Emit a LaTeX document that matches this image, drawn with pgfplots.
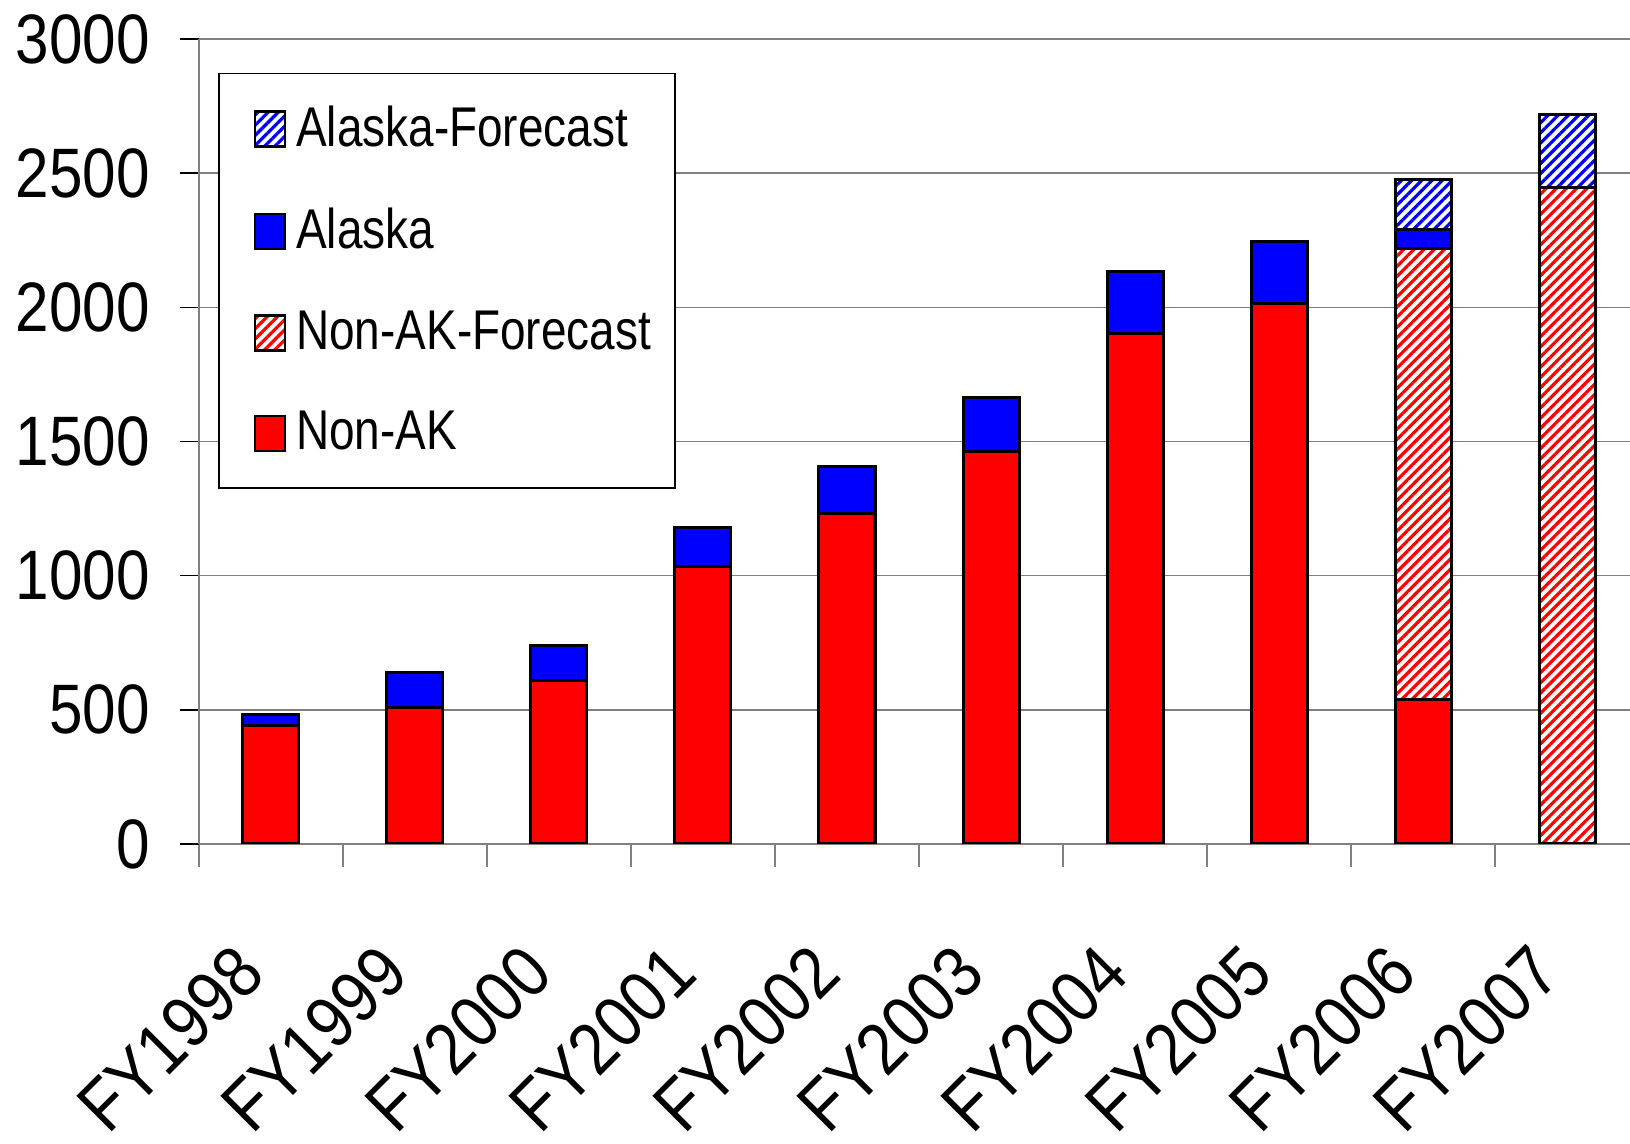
\documentclass[border=0pt]{standalone}
\usepackage{fontspec}
\setmainfont{Liberation Sans}[FakeStretch=0.86]
\newfontfamily\legfont{Liberation Sans}[FakeStretch=0.82]
\newfontfamily\xlabfont{Liberation Sans}[FakeStretch=0.88]
\usepackage{pgfplots}
\pgfplotsset{compat=1.18}
\usetikzlibrary{patterns.meta}

\definecolor{akred}{HTML}{FF0000}
\definecolor{akblue}{HTML}{0000FF}
\definecolor{gridgray}{HTML}{808080}

\begin{document}
\begin{tikzpicture}
\useasboundingbox (-49.75pt,-75pt) rectangle (357.75pt,211pt);
\begin{axis}[
    scale only axis,
    width=357.75pt, height=201.25pt,
    ybar stacked,
    bar width=14pt,
    xmin=-0.5, xmax=9.4375,
    ymin=0, ymax=3000,
    axis x line=bottom, axis y line=left,
    x axis line style={-, draw=gridgray, line width=0.6pt},
    y axis line style={-, draw=gridgray, line width=0.5pt},
    tick align=outside,
    xtick={0,...,9},
    xticklabels={FY1998,FY1999,FY2000,FY2001,FY2002,FY2003,FY2004,FY2005,FY2006,FY2007},
    major x tick style={draw=none},
    minor xtick={-0.5,0.5,...,8.5},
    minor x tick style={draw=gridgray, line width=0.4pt},
    minor tick length=5.75pt,
    ytick={0,500,1000,1500,2000,2500,3000},
    yticklabels={0,500,1000,1500,2000,2500,3000},
    major y tick style={draw=black, line width=0.4pt},
    major tick length=4.75pt,
    ymajorgrids,
    y grid style={draw=gridgray, line width=0.4pt},
    yticklabel style={font=\fontsize{17.5}{20}\selectfont, anchor=east, xshift=-4pt},
    xticklabel style={font=\xlabfont\fontsize{18.2}{21}\selectfont, inner sep=0pt,
        xshift=-5.2pt, yshift=-24pt, rotate=45, anchor=east},
    legend style={at={(rel axis cs:0.0133,0.958)}, anchor=north west,
        draw=black, line width=0.4pt,
        font=\legfont\fontsize{14}{16}\selectfont,
        row sep=10pt, inner xsep=4pt, inner ysep=6pt,
        cells={anchor=west}},
    reverse legend,
    legend image code/.code={\path (0pt,0pt) (12.6pt,0pt);
        \draw[#1, draw=black, line width=0.6pt] (4.6pt,-4.4pt) rectangle (12.1pt,4.4pt);},
    every axis plot/.append style={draw=black, line width=0.75pt},
]
% Non-AK
\addplot[fill=akred] coordinates {(0,440) (1,509) (2,609) (3,1035) (4,1233) (5,1461) (6,1903) (7,2016) (8,539) (9,0)};
% Non-AK-Forecast
\addplot[fill=white, postaction={pattern={Lines[angle=45,distance=1.8pt,line width=0.8pt]}, pattern color=akred}]
    coordinates {(0,0) (1,0) (2,0) (3,0) (4,0) (5,0) (6,0) (7,0) (8,1680) (9,2446)};
% Alaska
\addplot[fill=akblue] coordinates {(0,44) (1,131) (2,130) (3,143) (4,174) (5,202) (6,229) (7,228) (8,72) (9,0)};
% Alaska-Forecast
\addplot[fill=white, postaction={pattern={Lines[angle=45,distance=1.8pt,line width=0.8pt]}, pattern color=akblue}]
    coordinates {(0,0) (1,0) (2,0) (3,0) (4,0) (5,0) (6,0) (7,0) (8,186) (9,273)};
\legend{Non-AK, Non-AK-Forecast, Alaska, Alaska-Forecast}
\end{axis}
\end{tikzpicture}
\end{document}
